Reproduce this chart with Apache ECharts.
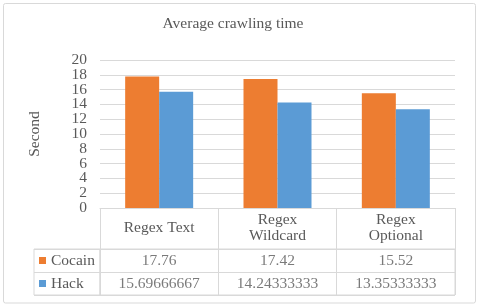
<!DOCTYPE html>
<html>
<head>
<meta charset="utf-8">
<script src="https://cdn.jsdelivr.net/npm/echarts@6/dist/echarts.min.js"></script>
<style>
html,body{margin:0;padding:0;background:#fff;}
#c{width:480px;height:308px;}
</style>
</head>
<body>
<div id="c"></div>
<script>
var categories = ['Regex Text', 'Regex\nWildcard', 'Regex\nOptional'];
var seriesNames = ['Cocain', 'Hack'];
var cocain = [17.76, 17.42, 15.52];
var hack = [15.69666667, 14.24333333, 13.35333333];
var yTickLabels = ['0', '2', '4', '6', '8', '10', '12', '14', '16', '18', '20'];
var yRange = {min: 0, max: 20, interval: 2};
var titleText = 'Average crawling time';
var yAxisName = 'Second';

var FONT = '"Liberation Serif", "Times New Roman", serif';
var TXT = '#595959';
var LINE = '#d9d9d9';
var colors = ['#ED7D31', '#5B9BD5'];

function tableData(vals, row) {
  return vals.map(function (v, i) { return [i, row, String(v)]; });
}

var chart = echarts.init(document.getElementById('c'));
chart.setOption({
  animation: false,
  backgroundColor: '#fff',
  color: colors,
  title: {
    text: titleText,
    left: 233, top: 16, textAlign: 'center', padding: 0,
    textStyle: {fontFamily: FONT, fontSize: 15.5, fontWeight: 'normal', color: TXT}
  },
  legend: {
    orient: 'vertical', left: 39, top: 249, padding: 0, itemGap: 0,
    itemWidth: 7, itemHeight: 7, icon: 'rect',
    data: seriesNames,
    textStyle: {fontFamily: FONT, fontSize: 15.5, color: TXT, lineHeight: 23, height: 23}
  },
  graphic: [{
    type: 'rect', silent: true, z: -10,
    shape: {x: 3.5, y: 3.5, width: 472, height: 299.5, r: 2},
    style: {fill: '#fff', stroke: LINE, lineWidth: 1}
  }],
  grid: [
    {left: 100, right: 25, top: 60, height: 148, outerBoundsMode: 'none', containLabel: false},
    {left: 100, right: 25, top: 249, height: 46, outerBoundsMode: 'none', containLabel: false,
     show: true, borderColor: LINE, borderWidth: 1, backgroundColor: 'transparent'},
    {left: 34, width: 66, top: 249, height: 46, outerBoundsMode: 'none', containLabel: false,
     show: true, borderColor: LINE, borderWidth: 1, backgroundColor: 'transparent'}
  ],
  xAxis: [
    {
      gridIndex: 0, type: 'category', data: categories,
      axisLine: {show: true, lineStyle: {color: LINE, width: 1}},
      axisTick: {show: true, length: 41, alignWithLabel: false, lineStyle: {color: LINE}},
      axisLabel: {interval: 0, margin: 20, verticalAlign: 'middle', fontFamily: FONT,
                  fontSize: 15.5, lineHeight: 16, color: TXT, hideOverlap: false},
      splitLine: {show: false}
    },
    {
      gridIndex: 1, type: 'category', data: categories,
      axisLine: {show: false}, axisTick: {show: false}, axisLabel: {show: false},
      splitLine: {show: true, interval: 0, lineStyle: {color: LINE, width: 1}}
    },
    {
      gridIndex: 2, type: 'value', min: 0, max: 1, show: false
    }
  ],
  yAxis: [
    {
      gridIndex: 0, type: 'value', min: yRange.min, max: yRange.max, interval: yRange.interval,
      name: yAxisName, nameLocation: 'middle', nameRotate: 90, nameGap: 57,
      nameTextStyle: {fontFamily: FONT, fontSize: 15.5, color: TXT},
      axisLine: {show: false}, axisTick: {show: false}, axisLabel: {show: false},
      splitLine: {show: true, lineStyle: {color: LINE, width: 1}}
    },
    {
      gridIndex: 1, type: 'category', data: seriesNames, inverse: true,
      axisLine: {show: false}, axisTick: {show: false}, axisLabel: {show: false},
      splitLine: {show: true, interval: 0, lineStyle: {color: LINE, width: 1}}
    },
    {
      gridIndex: 2, type: 'category', data: seriesNames, inverse: true,
      axisLine: {show: false}, axisTick: {show: false}, axisLabel: {show: false},
      splitLine: {show: true, interval: 0, lineStyle: {color: LINE, width: 1}}
    },
    {
      gridIndex: 0, type: 'category', data: yTickLabels, boundaryGap: false, position: 'left',
      axisLine: {show: false}, axisTick: {show: false}, splitLine: {show: false},
      axisLabel: {interval: 0, margin: 13, fontFamily: FONT, fontSize: 15.5, color: TXT, hideOverlap: false}
    }
  ],
  series: [
    {name: seriesNames[0], type: 'bar', xAxisIndex: 0, yAxisIndex: 0, data: cocain,
     barWidth: 34, barGap: '0%', itemStyle: {color: colors[0]}},
    {name: seriesNames[1], type: 'bar', xAxisIndex: 0, yAxisIndex: 0, data: hack,
     barWidth: 34, barGap: '0%', itemStyle: {color: colors[1]}},
    {
      name: 'table', type: 'scatter', xAxisIndex: 1, yAxisIndex: 1,
      data: tableData(cocain, 0).concat(tableData(hack, 1)),
      symbolSize: 1, itemStyle: {color: 'transparent'}, silent: true,
      label: {show: true, position: 'inside', formatter: function (p) { return p.value[2]; },
              fontFamily: FONT, fontSize: 15.5, color: TXT}
    }
  ]
});
</script>
</body>
</html>
